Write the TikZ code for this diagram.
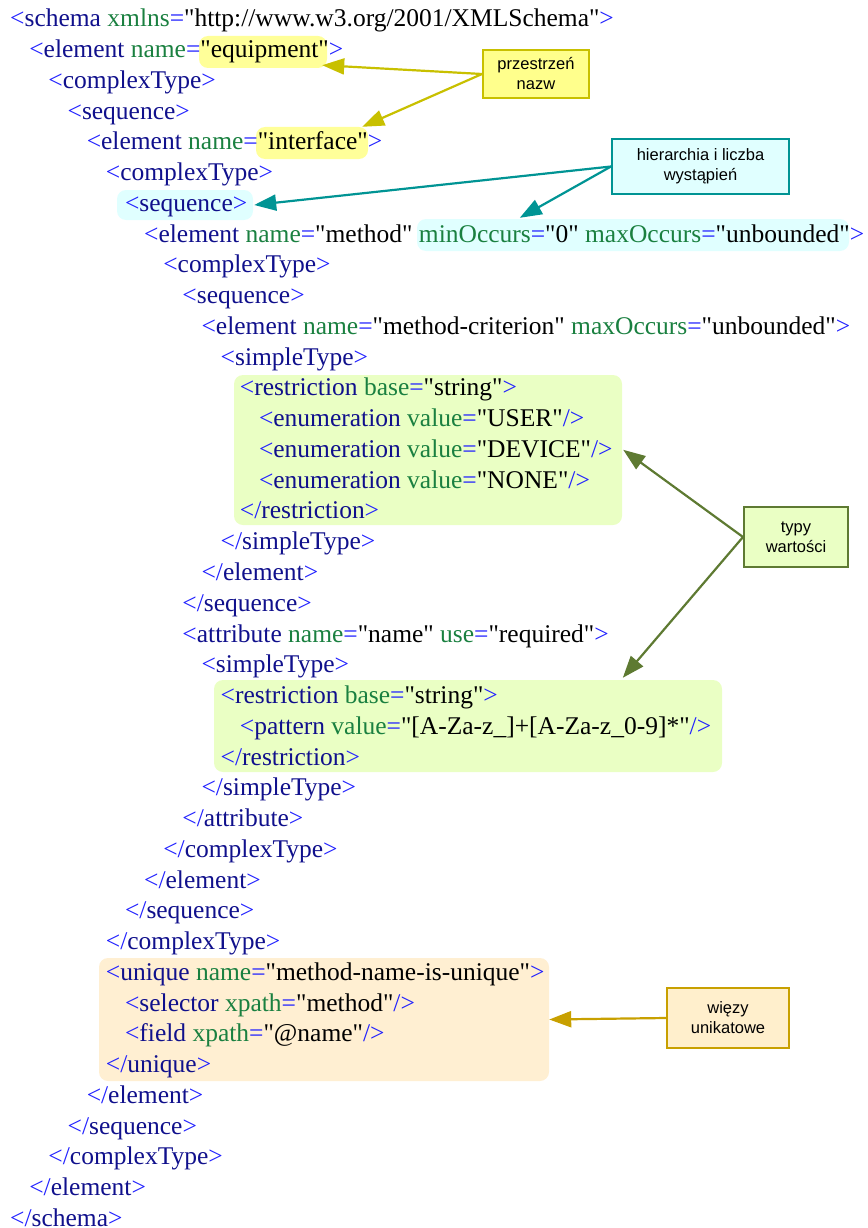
\documentclass[tikz,border=0pt]{standalone}
\usepackage{fontspec}
% straight ASCII quotes in the schema source
\setmainfont{Liberation Serif}[Ligatures=TeXOff]
\newfontfamily\calloutfont{Liberation Sans}
\usetikzlibrary{arrows.meta,calc,fit}

% syntax colours
\definecolor{xdelim}{HTML}{2020FF}
\definecolor{xtag}{HTML}{10108C}
\definecolor{xattr}{HTML}{1A8040}
% highlight and callout colours
\definecolor{hlyellow}{HTML}{FFFF99}
\definecolor{nsfill}{HTML}{FFFF8C}
\definecolor{nsline}{HTML}{C8C000}
\definecolor{hlcyan}{HTML}{E0FFFF}
\definecolor{hiline}{HTML}{009494}
\definecolor{hlgreen}{HTML}{EAFFC4}
\definecolor{tyline}{HTML}{5E7A32}
\definecolor{hlorange}{HTML}{FFEFD2}
\definecolor{unfill}{HTML}{FFEFCC}
\definecolor{unline}{HTML}{C8A000}

\newcommand\xdl[1]{\textcolor{xdelim}{#1}}
\newcommand\xtg[1]{\textcolor{xtag}{#1}}
\newcommand\xat[1]{\textcolor{xattr}{#1}}
% \xline{line number}{indent level}{content}
\newcommand\xline[3]{\node[code] (l#1) at ({10+19.14*#2},{26.8+30.76*(#1-1)}) {#3};}

\begin{document}
\begin{tikzpicture}[x=1pt,y=-1pt,
  code/.style={anchor=base west, inner sep=0pt, font=\fontsize{25.5}{30.77}\selectfont},
  hl/.style={rounded corners=9pt, inner sep=0pt, draw=none},
  callout/.style={draw, line width=2pt, inner sep=0pt, align=center,
    font=\calloutfont\fontsize{16.5}{20}\selectfont},
  pointer/.style={line width=2.2pt, -{Triangle[length=22pt,width=16pt]}}
]
\useasboundingbox (0,0) rectangle (867,1228);

% highlighted regions of the schema
\node[hl, fill=hlyellow, fit={(199,36) (327,68)}] (hlEquip) {};
\node[hl, fill=hlyellow, fit={(256,127) (368,159)}] (hlIface) {};
\node[hl, fill=hlcyan, fit={(117,190) (253,220)}] (hlSeq) {};
\node[hl, fill=hlcyan, fit={(417,219) (849,251)}] (hlOcc) {};
\node[hl, fill=hlgreen, fit={(234,375) (622,525)}] (hlRestrA) {};
\node[hl, fill=hlgreen, fit={(214,680) (722,772)}] (hlRestrB) {};
\node[hl, fill=hlorange, fit={(99,958) (549,1081)}] (hlUniq) {};

% schema source
\xline{1}{0}{\xdl{<}\xtg{schema} \xat{xmlns}\xdl{=}"http://www.w3.org/2001/XMLSchema"\xdl{>}}
\xline{2}{1}{\xdl{<}\xtg{element} \xat{name}\xdl{=}"equipment"\xdl{>}}
\xline{3}{2}{\xdl{<}\xtg{complexType}\xdl{>}}
\xline{4}{3}{\xdl{<}\xtg{sequence}\xdl{>}}
\xline{5}{4}{\xdl{<}\xtg{element} \xat{name}\xdl{=}"interface"\xdl{>}}
\xline{6}{5}{\xdl{<}\xtg{complexType}\xdl{>}}
\xline{7}{6}{\xdl{<}\xtg{sequence}\xdl{>}}
\xline{8}{7}{\xdl{<}\xtg{element} \xat{name}\xdl{=}"method" \xat{minOccurs}\xdl{=}"0" \xat{maxOccurs}\xdl{=}"unbounded"\xdl{>}}
\xline{9}{8}{\xdl{<}\xtg{complexType}\xdl{>}}
\xline{10}{9}{\xdl{<}\xtg{sequence}\xdl{>}}
\xline{11}{10}{\xdl{<}\xtg{element} \xat{name}\xdl{=}"method-criterion" \xat{maxOccurs}\xdl{=}"unbounded"\xdl{>}}
\xline{12}{11}{\xdl{<}\xtg{simpleType}\xdl{>}}
\xline{13}{12}{\xdl{<}\xtg{restriction} \xat{base}\xdl{=}"string"\xdl{>}}
\xline{14}{13}{\xdl{<}\xtg{enumeration} \xat{value}\xdl{=}"USER"\xdl{/>}}
\xline{15}{13}{\xdl{<}\xtg{enumeration} \xat{value}\xdl{=}"DEVICE"\xdl{/>}}
\xline{16}{13}{\xdl{<}\xtg{enumeration} \xat{value}\xdl{=}"NONE"\xdl{/>}}
\xline{17}{12}{\xdl{</}\xtg{restriction}\xdl{>}}
\xline{18}{11}{\xdl{</}\xtg{simpleType}\xdl{>}}
\xline{19}{10}{\xdl{</}\xtg{element}\xdl{>}}
\xline{20}{9}{\xdl{</}\xtg{sequence}\xdl{>}}
\xline{21}{9}{\xdl{<}\xtg{attribute} \xat{name}\xdl{=}"name" \xat{use}\xdl{=}"required"\xdl{>}}
\xline{22}{10}{\xdl{<}\xtg{simpleType}\xdl{>}}
\xline{23}{11}{\xdl{<}\xtg{restriction} \xat{base}\xdl{=}"string"\xdl{>}}
\xline{24}{12}{\xdl{<}\xtg{pattern} \xat{value}\xdl{=}"[A-Za-z\_]+[A-Za-z\_0-9]*"\xdl{/>}}
\xline{25}{11}{\xdl{</}\xtg{restriction}\xdl{>}}
\xline{26}{10}{\xdl{</}\xtg{simpleType}\xdl{>}}
\xline{27}{9}{\xdl{</}\xtg{attribute}\xdl{>}}
\xline{28}{8}{\xdl{</}\xtg{complexType}\xdl{>}}
\xline{29}{7}{\xdl{</}\xtg{element}\xdl{>}}
\xline{30}{6}{\xdl{</}\xtg{sequence}\xdl{>}}
\xline{31}{5}{\xdl{</}\xtg{complexType}\xdl{>}}
\xline{32}{5}{\xdl{<}\xtg{unique} \xat{name}\xdl{=}"method-name-is-unique"\xdl{>}}
\xline{33}{6}{\xdl{<}\xtg{selector} \xat{xpath}\xdl{=}"method"\xdl{/>}}
\xline{34}{6}{\xdl{<}\xtg{field} \xat{xpath}\xdl{=}"@name"\xdl{/>}}
\xline{35}{5}{\xdl{</}\xtg{unique}\xdl{>}}
\xline{36}{4}{\xdl{</}\xtg{element}\xdl{>}}
\xline{37}{3}{\xdl{</}\xtg{sequence}\xdl{>}}
\xline{38}{2}{\xdl{</}\xtg{complexType}\xdl{>}}
\xline{39}{1}{\xdl{</}\xtg{element}\xdl{>}}
\xline{40}{0}{\xdl{</}\xtg{schema}\xdl{>}}

% callouts
\node[callout, fill=nsfill, draw=nsline, minimum width=106pt, minimum height=48pt]
  (cNs) at (536,74) {przestrzeń\\nazw};
\node[callout, fill=hlcyan, draw=hiline, minimum width=177pt, minimum height=55pt]
  (cHier) at (700.5,166.5) {hierarchia i liczba\\wystąpień};
\node[callout, fill=hlgreen, draw=tyline, minimum width=104pt, minimum height=60pt]
  (cTypy) at (796,537) {typy\\wartości};
\node[callout, fill=unfill, draw=unline, minimum width=122pt, minimum height=60pt]
  (cUniq) at (728,1018) {więzy\\unikatowe};

% pointers from callouts to highlighted regions
\draw[pointer, nsline] (cNs.west) -- ($(hlEquip.south east)+(-5,-3)$);
\draw[pointer, nsline] (cNs.west) -- ($(hlIface.north east)+(-6,0)$);
\draw[pointer, hiline] (cHier.west) -- ($(hlSeq.east)+(1,0)$);
\draw[pointer, hiline] (cHier.west) -- ($(hlOcc.north west)+(103,-1)$);
\draw[pointer, tyline] (cTypy.west) -- ($(hlRestrA.north east)+(1,75)$);
\draw[pointer, tyline] (cTypy.west) -- ($(hlRestrB.north west)+(409,-2)$);
\draw[pointer, unline] (cUniq.west) -- (hlUniq.east);
\end{tikzpicture}
\end{document}
